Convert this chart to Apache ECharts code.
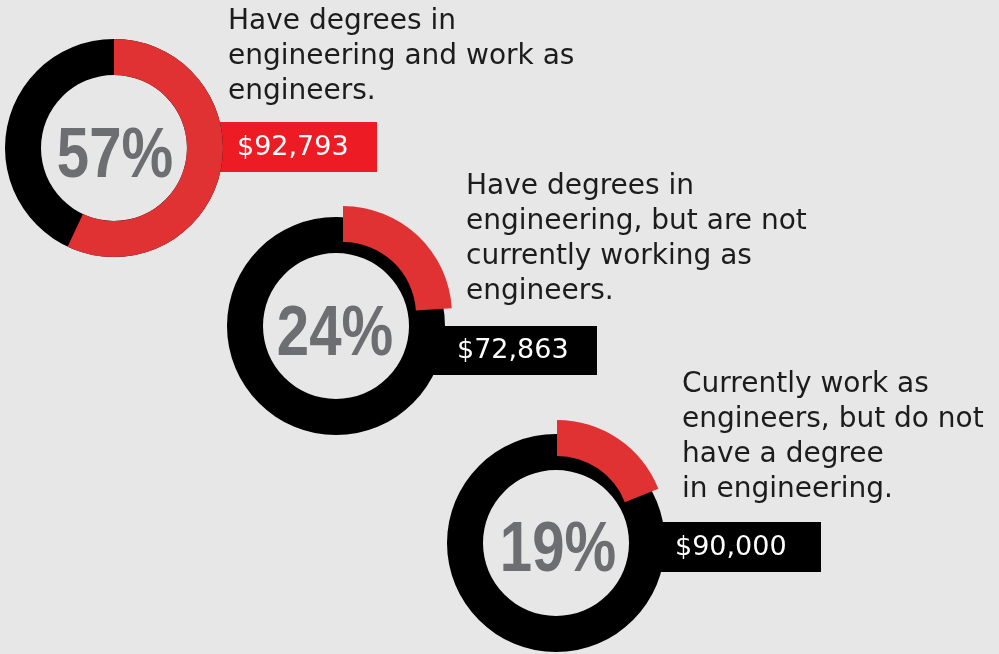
<!DOCTYPE html>
<html>
<head>
<meta charset="utf-8">
<script src="https://cdn.jsdelivr.net/npm/echarts@6/dist/echarts.min.js"></script>
<style>
  html, body { margin: 0; padding: 0; background: #e7e7e7; }
  #chart { width: 999px; height: 654px; }
</style>
</head>
<body>
<div id="chart"></div>
<script>
// Share of respondents in each group (percent)
const shares = [57, 24, 19];
// Average salary of each group (USD)
const salaries = [92793, 72863, 90000];
// Group descriptions, one entry per line
const descriptions = [
  ['Have degrees in', 'engineering and work as', 'engineers.'],
  ['Have degrees in', 'engineering, but are not', 'currently working as', 'engineers.'],
  ['Currently work as', 'engineers, but do not', 'have a degree', 'in engineering.']
];

// Layout of each ring and its annotations
const layout = [
  { center: [114, 148], lift: [0, 0], boxColor: '#ed1c24', box: [209, 122, 168, 50], money: [237, 148], pct: [115, 158], note: [228, 4] },
  { center: [336, 326], lift: [7, -11], boxColor: '#000000', box: [415, 326, 182, 49], money: [457, 351], pct: [335, 336], note: [466, 169] },
  { center: [556, 543], lift: [1, -14], boxColor: '#000000', box: [640, 522, 181, 50], money: [675, 548], pct: [558, 552], note: [682, 367] }
];

const RED = '#e03233';
const RADIUS = [73, 109];

const series = [];
const graphic = [];

shares.forEach((share, i) => {
  const L = layout[i];
  // full black ring
  series.push({
    type: 'pie',
    silent: true,
    z: 2,
    center: L.center,
    radius: RADIUS,
    startAngle: 90,
    clockwise: true,
    label: { show: false },
    labelLine: { show: false },
    emphasis: { disabled: true },
    itemStyle: { color: '#000000', borderWidth: 0 },
    data: [{ value: 100 }]
  });
  // red share arc, lifted off the ring
  series.push({
    type: 'pie',
    silent: true,
    z: 3,
    center: [L.center[0] + L.lift[0], L.center[1] + L.lift[1]],
    radius: RADIUS,
    startAngle: 90,
    clockwise: true,
    label: { show: false },
    labelLine: { show: false },
    emphasis: { disabled: true },
    data: [
      { value: share, itemStyle: { color: RED, borderWidth: 0 } },
      { value: 100 - share, itemStyle: { color: 'rgba(0,0,0,0)', borderWidth: 0 } }
    ]
  });

  // salary box
  graphic.push({
    type: 'rect',
    z: 0,
    shape: { x: L.box[0], y: L.box[1], width: L.box[2], height: L.box[3] },
    style: { fill: L.boxColor }
  });
  graphic.push({
    type: 'text',
    z: 100,
    x: L.money[0],
    y: L.money[1],
    style: {
      text: '$' + salaries[i].toLocaleString('en-US'),
      font: '27px "DejaVu Sans", sans-serif',
      fill: '#ffffff',
      textAlign: 'left',
      textVerticalAlign: 'middle'
    }
  });
  // percentage in the ring centre
  graphic.push({
    type: 'text',
    z: 100,
    x: L.pct[0],
    y: L.pct[1],
    scaleX: 0.83,
    style: {
      text: share + '%',
      font: 'bold 70px "Liberation Sans", Arial, sans-serif',
      fill: '#6d6e71',
      textAlign: 'center',
      textVerticalAlign: 'middle'
    }
  });
  // description
  graphic.push({
    type: 'text',
    z: 100,
    x: L.note[0],
    y: L.note[1],
    style: {
      text: descriptions[i].join('\n'),
      font: '28px "DejaVu Sans", sans-serif',
      lineHeight: 35,
      fill: '#1c1c1c',
      textAlign: 'left',
      textVerticalAlign: 'top'
    }
  });
});

const chart = echarts.init(document.getElementById('chart'), null, { renderer: 'canvas' });
chart.setOption({
  backgroundColor: '#e7e7e7',
  animation: false,
  series: series,
  graphic: graphic
});
</script>
</body>
</html>
